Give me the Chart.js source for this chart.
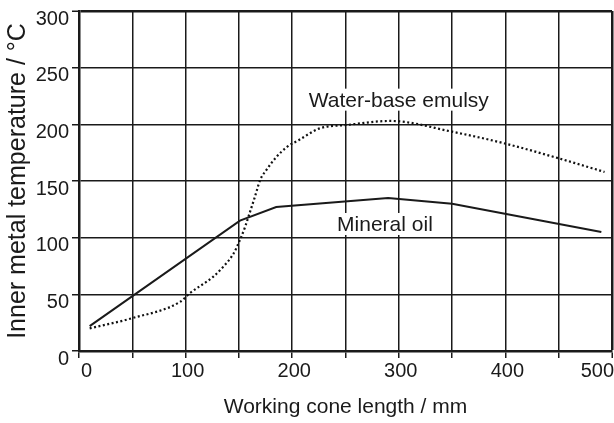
<!DOCTYPE html>
<html>
<head>
<meta charset="utf-8">
<script src="https://cdn.jsdelivr.net/npm/chart.js@4.4.1/dist/chart.umd.min.js"></script>
<style>
  html, body { margin: 0; padding: 0; background: #fff; }
  #wrap { width: 614px; height: 423px; }
</style>
</head>
<body>
<div id="wrap"><canvas id="myChart" width="614" height="423"></canvas></div>
<script>
// values
var oilX = [10, 151, 185, 290, 350, 490];
var oilY = [22, 115, 127, 135, 130, 105];

var emulX = [10, 50, 95, 104, 126, 135, 145, 151, 156, 160, 165, 170, 176, 185, 195, 206, 226, 251, 292, 350, 400, 450, 493];
var emulY = [20, 29, 43.5, 51, 65.6, 74, 86, 98, 110, 121.5, 136, 151, 160, 171, 180, 186, 196.5, 199.4, 203, 193.5, 183, 170, 158];

var xTicks = [0, 100, 200, 300, 400, 500];
var yTicks = [0, 50, 100, 150, 200, 250, 300];

var notes = [
  { text: 'Water-base emulsy', x: 300, y: 215.6 },
  { text: 'Mineral oil', x: 287, y: 105.9 }
];

function pts(xs, ys) {
  return xs.map(function (x, i) { return { x: x, y: ys[i] }; });
}

var ink = '#1a1a1a';
var font = 'Arial, "Liberation Sans", sans-serif';

// labels with a white box behind them, like the original
var notePlugin = {
  id: 'notes',
  beforeDatasetsDraw: function (chart) {
    var c = chart.ctx;
    var xs = chart.scales.x, ys = chart.scales.y;
    c.save();
    c.font = '21px ' + font;
    c.textAlign = 'center';
    c.textBaseline = 'alphabetic';
    notes.forEach(function (n) {
      var px = xs.getPixelForValue(n.x);
      var py = ys.getPixelForValue(n.y);
      var w = c.measureText(n.text).width;
      c.fillStyle = '#fff';
      c.fillRect(px - w / 2 - 3, py - 18, w + 6, 22);
      c.fillStyle = ink;
      c.fillText(n.text, px, py);
    });
    c.restore();
  }
};

var ctx = document.getElementById('myChart');

var myChart = new Chart(ctx, {
  type: 'line',
  data: {
    datasets: [{
      label: 'Mineral oil',
      data: pts(oilX, oilY),
      borderColor: ink,
      borderWidth: 2,
      pointRadius: 0,
      tension: 0
    }, {
      label: 'Water-base emulsy',
      data: pts(emulX, emulY),
      borderColor: '#111',
      borderWidth: 2.2,
      borderDash: [2, 2.5],
      pointRadius: 0,
      cubicInterpolationMode: 'monotone'
    }]
  },
  options: {
    responsive: false,
    animation: false,
    events: [],
    layout: { padding: { top: 11, right: 2, left: 0, bottom: 0 } },
    plugins: { legend: { display: false }, tooltip: { enabled: false } },
    scales: {
      x: {
        type: 'linear',
        min: 0,
        max: 500,
        afterBuildTicks: function (s) {
          var t = [];
          for (var v = 0; v <= 500; v += 50) t.push({ value: v });
          s.ticks = t;
        },
        afterFit: function (s) {
          s.height = 72;
          s.paddingLeft = 0;
          s.paddingRight = 0;
        },
        ticks: {
          autoSkip: false,
          maxRotation: 0,
          align: 'inner',
          labelOffset: 2,
          padding: 1,
          color: ink,
          font: { family: font, size: 20 },
          callback: function (v) { return xTicks.indexOf(v) >= 0 ? String(v) : ''; }
        },
        grid: {
          color: ink,
          lineWidth: function (c) { return c.tick && c.tick.value === 500 ? 2.5 : 1.5; },
          tickLength: 7,
          tickColor: ink,
          tickWidth: 1.5
        },
        border: { display: true, color: ink, width: 2.5 },
        title: {
          display: true,
          text: 'Working cone length / mm',
          color: ink,
          font: { family: font, size: 21 },
          padding: { top: 0, bottom: 3 }
        }
      },
      y: {
        min: 0,
        max: 300,
        afterBuildTicks: function (s) {
          s.ticks = yTicks.map(function (v) { return { value: v }; });
        },
        afterFit: function (s) {
          s.width = 79;
          s.paddingTop = 0;
          s.paddingBottom = 0;
        },
        ticks: {
          autoSkip: false,
          labelOffset: 8,
          padding: 3,
          color: ink,
          font: { family: font, size: 20 }
        },
        grid: {
          color: ink,
          lineWidth: function (c) { return c.tick && c.tick.value === 300 ? 2.5 : 1.5; },
          tickLength: 7,
          tickColor: ink,
          tickWidth: 1.5
        },
        border: { display: true, color: ink, width: 2.5 },
        title: {
          display: true,
          text: 'Inner metal temperature / °C',
          color: ink,
          font: { family: font, size: 25 },
          padding: { top: 3, bottom: 0 }
        }
      }
    }
  },
  plugins: [notePlugin]
});
</script>
</body>
</html>
